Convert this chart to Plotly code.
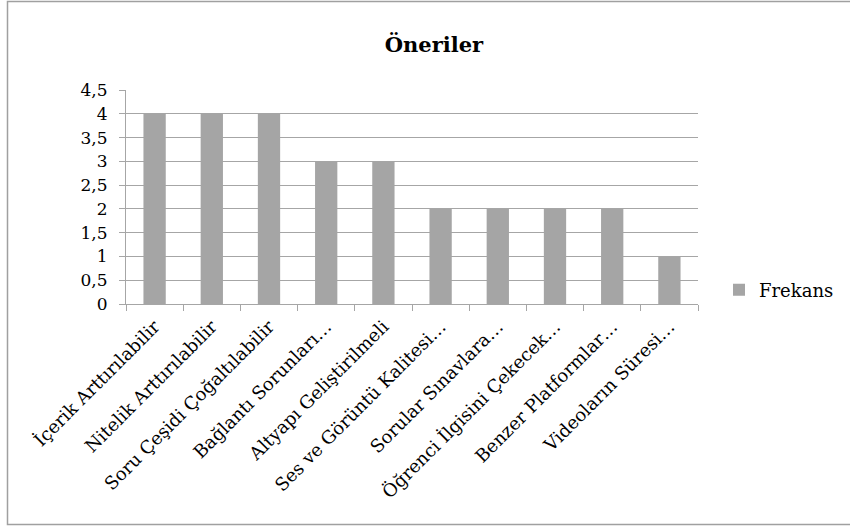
import plotly.graph_objects as go

categories = [
    "İçerik Arttırılabilir",
    "Nitelik Arttırılabilir",
    "Soru Çeşidi Çoğaltılabilir",
    "Bağlantı Sorunları…",
    "Altyapı Geliştirilmeli",
    "Ses ve Görüntü Kalitesi…",
    "Sorular Sınavlara…",
    "Öğrenci İlgisini Çekecek…",
    "Benzer Platformlar…",
    "Videoların Süresi…",
]
values = [4, 4, 4, 3, 3, 2, 2, 2, 2, 1]
y_ticks = [0, 0.5, 1, 1.5, 2, 2.5, 3, 3.5, 4, 4.5]
y_tick_labels = ["0", "0,5", "1", "1,5", "2", "2,5", "3", "3,5", "4", "4,5"]
series_name = "Frekans"

FONT = "DejaVu Serif"
GRID = "#A6A6A6"

W, H = 850, 526
L, R, T, B = 126, 850 - 698, 90, 526 - 304
pw, ph = W - L - R, H - T - B

def px_to_paper_x(px):
    return (px - L) / pw

def px_to_paper_y(py):
    return (H - B - py) / ph

fig = go.Figure()
fig.add_trace(go.Bar(
    x=categories, y=values, name=series_name,
    marker=dict(color="#A5A5A5", line=dict(width=0)),
))

fig.update_layout(
    width=W, height=H,
    margin=dict(l=L, r=R, t=T, b=B, autoexpand=False),
    paper_bgcolor="white", plot_bgcolor="white",
    font=dict(family=FONT, size=17, color="black"),
    bargap=0.61,
    title=dict(text="<b>Öneriler</b>", x=434 / W, xref="container", xanchor="center",
               y=1 - 45 / H, yref="container", yanchor="middle",
               font=dict(family=FONT, size=21, color="black")),
    showlegend=True,
    legend=dict(x=719 / W, xref="container", y=1 - 290 / H, yref="container",
                xanchor="left", yanchor="middle",
                font=dict(family=FONT, size=18), bgcolor="rgba(0,0,0,0)"),
    xaxis=dict(type="category", tickangle=-45, ticks="outside", tickson="boundaries",
               ticklen=6, tickcolor=GRID, showline=True, linecolor=GRID, linewidth=1,
               showgrid=False, tickfont=dict(family=FONT, size=18), ticklabelstandoff=4),
    yaxis=dict(range=[0, 4.5], tickvals=y_ticks, ticktext=y_tick_labels,
               ticks="outside", ticklen=6, tickcolor=GRID, showline=True, linecolor=GRID,
               showgrid=True, gridcolor=GRID, gridwidth=1, zeroline=False,
               tickfont=dict(family=FONT, size=17), ticklabelstandoff=8),
)

# outer chart border (right edge lies beyond the visible area)
fig.add_shape(type="rect", xref="paper", yref="paper",
              x0=px_to_paper_x(7.5), x1=px_to_paper_x(900),
              y0=px_to_paper_y(524.5), y1=px_to_paper_y(1.5),
              line=dict(color="#A0A0A0", width=1.5), fillcolor="rgba(0,0,0,0)", layer="below")

fig.write_html("out.html", config={"displayModeBar": False},
               post_script="document.body.style.margin='0';document.body.style.overflow='hidden';")
